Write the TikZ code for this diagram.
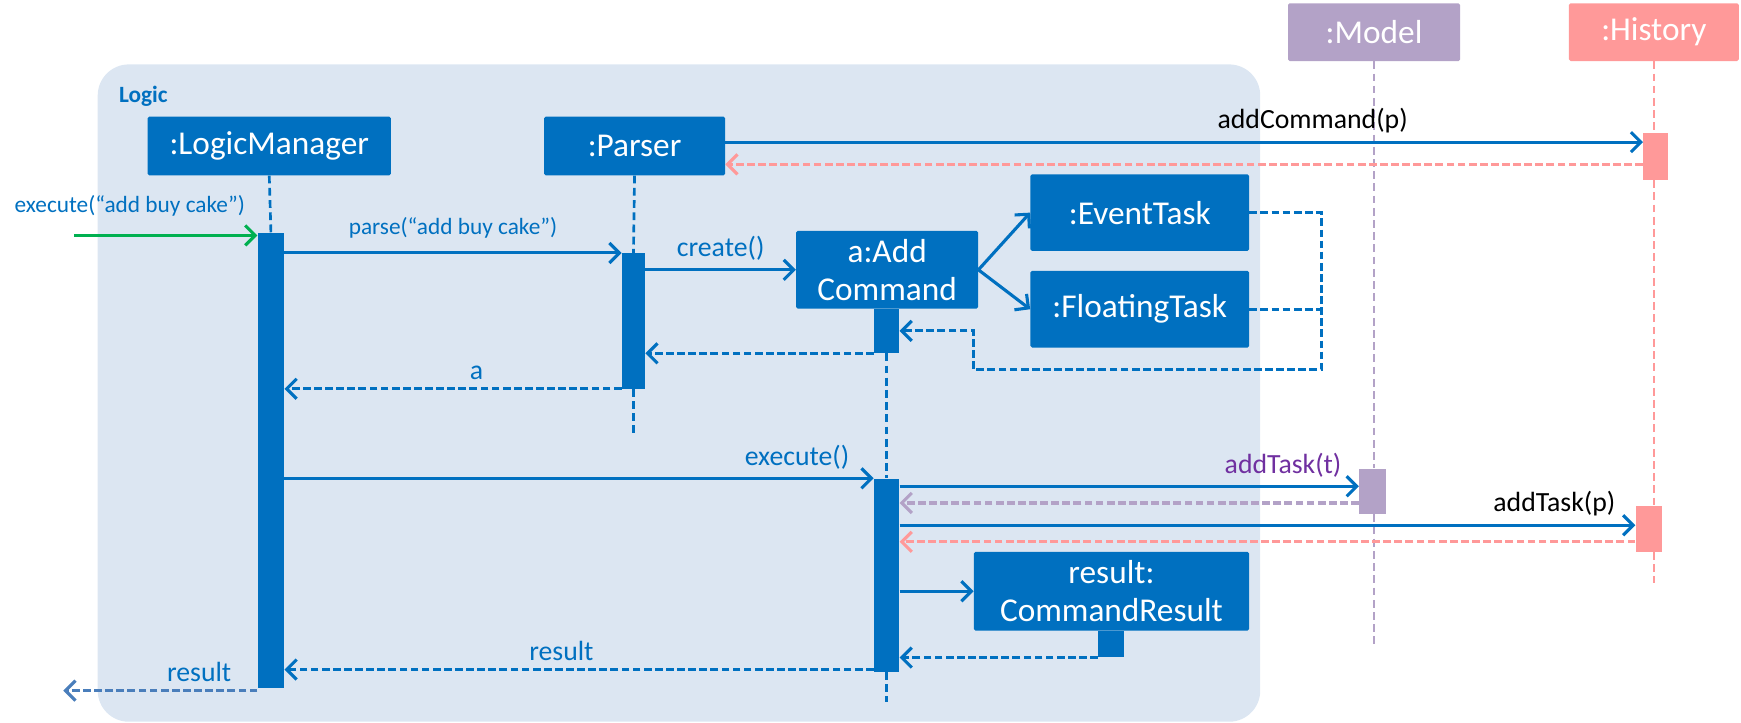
\documentclass[tikz,border=0pt]{standalone}
\usepackage{fontspec}
\setmainfont{Carlito}
\usepackage{tikz}
\usetikzlibrary{positioning}
\usetikzlibrary{calc}
\usetikzlibrary{arrows.meta}
\definecolor{logicBlue}{HTML}{0070C0}
\definecolor{outBlue}{HTML}{4A7EBB}
\definecolor{callGreen}{HTML}{00B050}
\definecolor{modelPurple}{HTML}{B3A2C7}
\definecolor{labelPurple}{HTML}{7030A0}
\definecolor{historyPink}{HTML}{FF9999}
\definecolor{frameFill}{HTML}{DCE6F2}
\newcommand*{\boxFont}{\fontsize{30}{34}\selectfont}
\newcommand*{\msgFont}{\fontsize{25}{28}\selectfont}
\newcommand*{\smallMsgFont}{\fontsize{21}{24}\selectfont}
\tikzset{SDstyle/.style={
    x=1pt, y=-1pt,% one unit is one pixel, y runs down
    >={Straight Barb[length=9pt,width=18pt]},
    frame/.style={fill=frameFill, rounded corners=28pt, inner sep=0pt},
    object/.style={fill=logicBlue, text=white, font=\boxFont, inner sep=0pt,
      rounded corners=1.5pt, align=center},
    activation/.style={fill=logicBlue, inner sep=0pt, minimum width=23pt},
    lifeline/.style={dash pattern=on 7pt off 4pt, line width=2.4pt, logicBlue},
    call/.style={->, line width=2.8pt, logicBlue},
    reply/.style={->, line width=2.8pt, dash pattern=on 7pt off 3pt, logicBlue},
    msg/.style={font=\msgFont, text=logicBlue, above, inner sep=7pt}
  }
}

\begin{document}
\begin{tikzpicture}[SDstyle]
    \useasboundingbox (0,0) rectangle (1568,650.3);

    \node[frame, minimum width=1047pt, minimum height=592pt] (logic) at (611.5,354) {};
    \node[font=\bfseries\fontsize{21}{24}\selectfont, text=logicBlue, anchor=west, inner sep=0pt] (logicLbl) at (107,87) {Logic};

    % objects
    \node[object, minimum width=219pt, minimum height=53pt] (lm) at (242.5,131.5) {:LogicManager};
    \node[object, minimum width=163pt, minimum height=53pt] (parser) at (571.5,131.5) {:Parser};
    \node[object, minimum width=164pt, minimum height=70pt] (addCmd) at (799,243) {a:Add\\Command};
    \node[object, minimum width=197pt, minimum height=69pt] (eventTask) at (1026.5,191.5) {:EventTask};
    \node[object, minimum width=197pt, minimum height=69pt] (floatTask) at (1026.5,278.5) {:FloatingTask};
    \node[object, minimum width=248pt, minimum height=71pt] (resBox) at (1001,532.5) {result:\\CommandResult};
    \node[object, fill=modelPurple, minimum width=155pt, minimum height=52pt] (model) at (1237.5,29) {:Model};
    \node[object, fill=historyPink, minimum width=153pt, minimum height=52pt] (history) at (1489.5,29) {:History};

    % activations
    \node[activation, minimum width=24pt, minimum height=410pt] (lmAct) at (244,415) {};
    \node[activation, minimum width=21pt, minimum height=122pt] (pAct) at (570.5,289) {};
    \node[activation, minimum height=40pt] (acAct1) at (798.5,298) {};
    \node[activation, minimum height=174pt] (acAct2) at (798.5,518) {};
    \node[activation, minimum height=24pt] (resAct) at (1000.5,580) {};
    \node[activation, fill=modelPurple, minimum width=24pt, minimum height=41pt] (mAct) at (1236,442.5) {};
    \node[activation, fill=historyPink, minimum width=22pt, minimum height=42pt] (hAct1) at (1491,141) {};
    \node[activation, fill=historyPink, minimum width=24pt, minimum height=41pt] (hAct2) at (1485,476.5) {};

    \coordinate (pEnd) at (570.5,393);
    \coordinate (acEnd) at (798.5,632);
    \coordinate (mEnd) at (1237.5,580);
    \coordinate (hEnd) at (1489.5,525);

    % lifelines
    \foreach \a/\b in {lm.south/lmAct.north, parser.south/pAct.north, pAct.south/pEnd,
                       acAct1.south/acAct2.north, acAct2.south/acEnd} {
        \draw[lifeline] (\a) -- (\b);
    }
    \draw[lifeline, modelPurple] (model.south) -- (model.south |- mAct.north);
    \draw[lifeline, modelPurple] (model.south |- mAct.south) -- (mEnd);
    \draw[lifeline, historyPink] (history.south) -- (history.south |- hAct1.north);
    \draw[lifeline, historyPink] (history.south |- hAct1.south) -- (history.south |- hAct2.north);
    \draw[lifeline, historyPink] (history.south |- hAct2.south) -- (hEnd);

    % message levels
    \coordinate (inStart) at (67,212);
    \coordinate (yAddCmd) at (0,128);
    \coordinate (yAddCmdRet) at (0,148);
    \coordinate (yTaskT) at (0,438);
    \coordinate (yTaskTRet) at (0,453);
    \coordinate (yTaskP) at (0,473);
    \coordinate (yTaskPRet) at (0,488);
    \coordinate (yRes) at (0,603);
    \coordinate (outEnd) at (57,622);
    \coordinate (loopR) at (1190,333);
    \coordinate (loopL) at (877,298);

    \draw[call, callGreen] (inStart) -- (inStart -| lmAct.west);
    \node[font=\smallMsgFont, text=logicBlue, anchor=west, inner sep=0pt] (inLbl) at (13,185) {execute(“add buy cake”)};

    \draw[call] (lmAct.east |- pAct.north) -- (pAct.north west)
        node[msg, midway, font=\smallMsgFont, yshift=5pt] {parse(“add buy cake”)};
    \draw[call] (pAct.east |- addCmd.west) -- (addCmd.west) node[msg, midway] {create()};
    \draw[call] (addCmd.east) -- (eventTask.west);
    \draw[call] (addCmd.east) -- (floatTask.west);
    \draw[reply] (eventTask.east) -| (loopR) -| (loopL) -- (acAct1.east);
    \draw[reply, -] (floatTask.east) -- (floatTask.east -| loopR);
    \draw[reply] (acAct1.south west) -- (pAct.east |- acAct1.south);
    \draw[reply] (pAct.south west) -- (lmAct.east |- pAct.south) node[msg, pos=0.43] {a};

    \draw[call] (parser.east |- yAddCmd) -- (hAct1.west |- yAddCmd)
        node[msg, pos=0.64, text=black] {addCommand(p)};
    \draw[reply, historyPink] (hAct1.west |- yAddCmdRet) -- (parser.east |- yAddCmdRet);

    \draw[call] (lmAct.east |- acAct2.north) -- (acAct2.north west) node[msg, pos=0.87] {execute()};
    \draw[call] (acAct2.east |- yTaskT) -- (mAct.west |- yTaskT)
        node[msg, pos=0.835, text=labelPurple] {addTask(t)};
    \draw[reply, modelPurple] (mAct.west |- yTaskTRet) -- (acAct2.east |- yTaskTRet);
    \draw[call] (acAct2.east |- yTaskP) -- (hAct2.west |- yTaskP)
        node[msg, pos=0.89, text=black] {addTask(p)};
    \draw[reply, historyPink] (hAct2.west |- yTaskPRet) -- (acAct2.east |- yTaskPRet);
    \draw[call] (acAct2.east |- resBox.west) -- (resBox.west);
    \draw[reply] (resAct.south west) -- (acAct2.east |- resAct.south);
    \draw[reply] (acAct2.west |- yRes) -- (lmAct.east |- yRes) node[msg, pos=0.53] {result};
    \draw[reply, outBlue] (lmAct.south west |- outEnd) -- (outEnd) node[msg, pos=0.3] {result};
\end{tikzpicture}
\end{document}
